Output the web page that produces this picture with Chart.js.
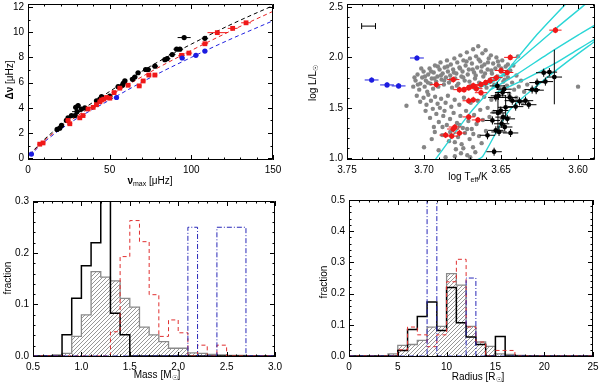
<!DOCTYPE html>
<html>
<head>
<meta charset="utf-8">
<script src="https://cdn.jsdelivr.net/npm/chart.js@4"></script>
<style>
html, body { margin: 0; padding: 0; background: #fff; }
#wrap { position: relative; width: 600px; height: 385px; }
canvas { position: absolute; left: 0; top: 0; }
</style>
</head>
<body>
<div id="wrap">
  <canvas id="c1" width="600" height="385"></canvas>
  <canvas id="c2" width="600" height="385"></canvas>
  <canvas id="c3" width="600" height="385"></canvas>
  <canvas id="c4" width="600" height="385"></canvas>
</div>
<script>
// ---- panel 1: delta nu vs nu_max ----
const blkNu  = [17.8,19.4,20.5,23.5,24.5,26.6,28.8,29.2,30.0,30.7,32.7,34.8,41.9,44.0,45.0,50.1,55.2,57.9,58.3,59.3,64.0,65.4,67.4,72.0,73.6,77.7,83.8,85.2,88.3,91.0,93.0,95.6,108.3];
const blkDnu = [2.29,2.39,2.61,3.00,3.21,3.39,3.39,4.04,3.70,4.17,3.91,3.99,4.56,4.69,4.90,4.93,5.68,5.79,5.95,6.13,6.26,6.44,6.78,7.04,7.04,7.30,7.82,7.90,8.22,8.65,8.65,9.57,9.51];
const blkNuErr  = [1,1,1,1,1,1,1.5,1.5,3,1.5,1,1,1.5,1.5,1.5,1.5,1.5,1.5,1.5,1.5,1.5,1.5,1.5,1.5,1.5,2,2,2,2,2,2,4,2];
const blkDnuErr = [0.08,0.08,0.08,0.08,0.08,0.08,0.15,0.2,0.35,0.2,0.1,0.08,0.08,0.08,0.08,0.08,0.08,0.08,0.08,0.08,0.08,0.08,0.08,0.08,0.08,0.08,0.08,0.08,0.08,0.08,0.08,0.1,0.08];
const redNu  = [7.2,9.2,24.5,25.6,31.7,33.7,36.8,39.9,41.9,44.0,45.0,46.4,48.1,50.1,52.7,56.2,61.3,68.1,70.5,74.0,77.7,94.0,98.5,108.3,115.9,125.3,133.5];
const redDnu = [1.12,1.22,3.00,2.74,3.21,3.39,3.91,4.04,4.25,4.48,4.62,4.69,4.82,4.77,5.21,5.56,5.79,5.74,6.13,6.60,6.60,8.16,8.34,9.08,9.96,10.30,10.74];
const redNuErr = [1.5,1.5,1.5,1.5,1.5,1.5,1.5,1.5,1.5,1.5,1.5,1.5,1.5,1.5,1.5,1.5,1.5,1.5,1.5,1.5,1.5,2,2,2,6,3,3];
const bluNu  = [2.1,54.2,94.4,102.8,108.3];
const bluDnu = [0.34,4.82,7.95,8.16,8.50];
const fitNu    = [1,10,25,50,75,100,125,150];
const fitBlack = [0.30,1.50,3.10,5.30,7.30,9.05,10.65,12.10];
const fitRed   = [0.27,1.40,2.90,4.95,6.85,8.55,10.15,11.65];
const fitBlue  = [0.22,1.30,2.75,4.62,6.40,8.00,9.50,10.90];

// ---- panel 2: HR diagram ----
const hrBluT = [3.734,3.724,3.7165,3.7046];
const hrBluL = [1.776,1.727,1.717,1.994];
const hrRedT = [3.6147,3.644,3.650,3.646,3.653,3.657,3.660,3.663,3.666,3.668,3.671,3.674,3.681,3.677,3.692,3.671,3.668,3.663,3.665,3.671,3.681,3.682,3.686,3.677,3.680];
const hrRedL = [2.27,2.00,1.87,1.85,1.80,1.77,1.75,1.73,1.69,1.72,1.70,1.68,1.78,1.68,1.73,1.57,1.58,1.65,1.38,1.41,1.29,1.22,1.23,1.25,1.31];
const hrBlkT = [3.6223,3.6186,3.6154,3.6212,3.6266,3.6272,3.6298,3.638,3.6341,3.632,3.6405,3.6444,3.648,3.6524,3.649,3.6517,3.652,3.6502,3.6487,3.6496,3.6513,3.647,3.6459,3.6476,3.6534,3.6427,3.6556,3.6588,3.6534,3.6438,3.6545];
const hrBlkL = [1.848,1.854,1.805,1.760,1.750,1.675,1.681,1.564,1.571,1.531,1.512,1.603,1.685,1.717,1.652,1.619,1.45,1.473,1.408,1.342,1.261,1.505,1.391,1.31,1.603,1.571,1.375,1.228,1.277,1.251,1.065];
const hrBlkLErr = [0.04,0.04,0.27,0.04,0.04,0.04,0.04,0.04,0.04,0.04,0.04,0.04,0.04,0.04,0.04,0.04,0.2,0.04,0.04,0.04,0.04,0.12,0.04,0.04,0.04,0.04,0.04,0.04,0.04,0.04,0.04];
const grayHR = [
  // clump band
  [3.7070,1.71],[3.7055,1.77],[3.7042,1.83],[3.7031,1.68],[3.7024,1.74],[3.7012,1.80],[3.7003,1.86],[3.6996,1.71],
  [3.6988,1.77],[3.6979,1.66],[3.6973,1.83],[3.6964,1.89],[3.6958,1.74],[3.6950,1.79],[3.6941,1.69],[3.6937,1.85],
  [3.6929,1.92],[3.6921,1.76],[3.6913,1.81],[3.6907,1.71],[3.6899,1.88],[3.6893,1.95],[3.6886,1.78],[3.6879,1.84],
  [3.6871,1.73],[3.6866,1.90],[3.6858,1.80],[3.6851,1.97],[3.6845,1.86],[3.6838,1.75],[3.6830,1.82],[3.6826,1.93],
  [3.6818,1.70],[3.6811,1.88],[3.6803,1.99],[3.6797,1.79],[3.6790,1.84],[3.6784,1.95],[3.6777,1.74],[3.6770,1.90],
  [3.6764,2.02],[3.6757,1.81],[3.6750,1.86],[3.6744,1.97],[3.6736,1.77],[3.6730,1.92],[3.6722,2.05],[3.6716,1.83],
  [3.6709,1.88],[3.6702,1.99],[3.6695,1.72],[3.6689,1.94],[3.6681,2.08],[3.6675,1.85],[3.6669,1.79],[3.6662,2.01],
  [3.6655,1.90],[3.6648,2.11],[3.6642,1.75],[3.6635,1.96],[3.6629,1.86],[3.6621,2.04],[3.6615,1.81],[3.6608,1.93],
  [3.6600,2.07],[3.6594,1.70],[3.6587,1.88],[3.6580,1.99],[3.6573,1.78],[3.6566,2.02],[3.6559,1.84],[3.6551,1.94],
  [3.6544,1.73],[3.6537,1.89],[3.6530,2.00],[3.6522,1.81],[3.6515,1.92],[3.6508,1.69],[3.6500,1.86],[3.6492,1.97],
  [3.6485,1.76],[3.6477,1.83],[3.6470,1.91],[3.6462,1.72],[3.6455,1.80],[3.6447,1.64],[3.6440,1.87],[3.6428,1.75],
  [3.6415,1.68],[3.6400,1.82],[3.6385,1.71],[3.6370,1.77],[3.6350,1.66],[3.6330,1.73],
  [3.7062,1.80],[3.7040,1.73],[3.7018,1.89],[3.6994,1.81],[3.6975,1.75],[3.6954,1.86],[3.6932,1.79],[3.6910,1.91],
  [3.6890,1.82],[3.6869,1.77],[3.6848,1.91],[3.6826,1.78],[3.6806,1.85],[3.6787,1.72],[3.6766,1.89],[3.6745,1.80],
  [3.6724,1.96],[3.6705,1.76],[3.6684,1.88],[3.6664,1.82],[3.6645,1.98],[3.6625,1.91],[3.6604,1.84],[3.6585,1.95],
  [3.6563,1.87],[3.6541,1.79],[3.6520,1.96],[3.6498,1.89],[3.6477,1.78],[3.6456,1.93],
  // lower giant branch
  [3.7114,1.52],[3.7047,1.62],[3.7025,1.56],[3.7003,1.60],[3.6990,1.47],[3.6984,1.53],[3.6972,1.63],[3.6961,1.40],
  [3.6955,1.57],[3.6943,1.49],[3.6936,1.31],[3.6928,1.61],[3.6920,1.44],[3.6912,1.54],[3.6904,1.36],[3.6897,1.50],
  [3.6889,1.59],[3.6882,1.23],[3.6875,1.42],[3.6867,1.47],[3.6860,1.55],[3.6852,1.33],[3.6845,1.62],[3.6838,1.17],
  [3.6831,1.39],[3.6823,1.51],[3.6816,1.28],[3.6808,1.45],[3.6801,1.58],[3.6793,1.09],[3.6786,1.35],[3.6779,1.21],
  [3.6771,1.53],[3.6764,1.42],[3.6756,1.14],[3.6748,1.30],[3.6741,1.60],[3.6734,1.25],[3.6727,1.47],[3.6719,1.03],
  [3.6712,1.37],[3.6704,1.19],[3.6697,1.55],[3.6690,1.29],[3.6682,1.11],[3.6675,1.43],[3.6667,1.06],[3.6659,1.34],
  [3.6651,1.57],[3.6643,1.22],[3.6635,1.48],[3.6626,1.15],[3.6618,1.38],[3.6609,1.61],[3.6598,1.27],[3.6587,1.50],
  [3.6575,1.41],[3.6563,1.58],[3.6548,1.46],[3.6530,1.62],[3.7000,1.11],[3.6950,1.19],[3.6905,1.08],[3.6860,1.01],
  [3.6800,1.02],[3.6760,1.05],[3.6700,1.01],[3.6930,1.26],[3.6880,1.31],[3.6830,1.26],[3.6770,1.33],[3.6720,1.29],
  [3.6680,1.24],[3.6745,1.10],[3.6800,1.16],
  // scattered to the cool side
  [3.6000,1.71],[3.6400,1.60],[3.6360,1.55],[3.6420,1.92],[3.6390,2.01]
];
const track1T = [3.693,3.6706,3.649,3.6276,3.608];
const track1L = [0.98,1.44,1.815,2.21,2.53];
const track2T = [3.668,3.655,3.640,3.618,3.595];
const track2L = [1.68,1.76,1.95,2.24,2.53];
const track3T = [3.6577,3.640,3.620,3.600,3.589];
const track3L = [1.67,1.83,2.03,2.22,2.32];
const track4T = [3.6534,3.635,3.615,3.600,3.589];
const track4L = [1.65,1.78,1.94,2.08,2.18];
const track5T = [3.666,3.662,3.6448,3.625,3.605,3.589];
const track5L = [0.98,1.016,1.47,1.74,1.98,2.16];

// ---- panel 3: mass histograms (bin left edges, width 0.1) ----
const massEdges = [0.5,0.6,0.7,0.8,0.9,1.0,1.1,1.2,1.3,1.4,1.5,1.6,1.7,1.8,1.9,2.0,2.1,2.2,2.3,2.4,2.5,2.6,2.7,2.8,2.9];
const massAll   = [0,0,0.002,0.005,0.038,0.080,0.164,0.153,0.146,0.112,0.095,0.056,0.041,0.028,0.015,0.015,0.006,0.005,0.003,0.002,0.001,0.001,0,0,0];
const massBlack = [0,0,0,0.041,0.112,0.175,0.220,0.328,0.083,0.041,0,0,0,0,0,0,0,0,0,0,0,0,0,0,0];
const massRed   = [0,0,0,0,0,0,0,0,0.047,0.193,0.263,0.222,0.119,0.038,0.070,0.045,0,0.021,0,0.021,0,0,0,0,0];
const massBlue  = [0,0,0,0,0,0,0,0,0,0,0,0,0,0,0,0,0.25,0,0,0.25,0.25,0.25,0,0,0];

// ---- panel 4: radius histograms (bin left edges, width 1) ----
const radEdges = [0,1,2,3,4,5,6,7,8,9,10,11,12,13,14,15,16,17,18,19,20,21,22,23,24];
const radAll   = [0,0,0,0,0.007,0.034,0.037,0.050,0.093,0.095,0.264,0.227,0.095,0.045,0.031,0.007,0.005,0.002,0,0,0,0,0,0,0];
const radBlack = [0,0,0,0,0,0.018,0.085,0.127,0.173,0.082,0.220,0.107,0.061,0.037,0,0.063,0,0,0,0,0,0,0,0,0];
const radRed   = [0,0,0,0,0,0.020,0.093,0.068,0.030,0.068,0.238,0.310,0.093,0.045,0,0.018,0.018,0,0,0,0,0,0,0,0];
const radBlue  = [0,0,0,0,0,0,0,0,0.5,0,0,0,0.25,0,0,0,0,0,0,0,0,0,0,0,0];

// ---- helpers ----
const FONT = '"Liberation Sans", Arial, sans-serif';
const YW = 25, XH = 20;

const pts = (xs, ys, xe, ye) => xs.map((v, i) => ({
  x: v, y: ys[i],
  xe: Array.isArray(xe) ? xe[i] : xe,
  ye: Array.isArray(ye) ? ye[i] : ye
}));
const line = (xs, ys) => xs.map((v, i) => ({x: v, y: ys[i]}));
const steps = (edges, vals, w) => [{x: edges[0], y: 0}]
  .concat(edges.map((e, i) => ({x: e, y: vals[i]})))
  .concat([{x: edges[edges.length - 1] + w, y: 0}]);

const hatch = (() => {
  const c = document.createElement('canvas');
  c.width = 4; c.height = 4;
  const g = c.getContext('2d');
  g.strokeStyle = '#6a6a6a'; g.lineWidth = 0.7;
  g.beginPath();
  g.moveTo(0, 4); g.lineTo(4, 0);
  g.moveTo(-1, 1); g.lineTo(1, -1);
  g.moveTo(3, 5); g.lineTo(5, 3);
  g.stroke();
  return g.createPattern(c, 'repeat');
})();

function eachTick(scale, majors, step, fn) {
  const lo = Math.min(scale.min, scale.max), hi = Math.max(scale.min, scale.max);
  for (let i = Math.ceil(lo / step - 1e-6); i * step <= hi + 1e-9; i++) {
    const v = i * step;
    const major = majors.some(m => Math.abs(m - v) < step * 0.01);
    fn(v, major ? 5 : 2.5);
  }
}

function framePlugin(cfg) {
  return {
    id: 'frame',
    afterDatasetsDraw(chart) {
      const {ctx, chartArea: a} = chart;
      const x = chart.scales.x, y = chart.scales.y;
      ctx.save();
      ctx.strokeStyle = '#000';
      ctx.lineWidth = 1;
      ctx.beginPath();
      ctx.rect(a.left + 0.5, a.top + 0.5, a.right - a.left - 1, a.bottom - a.top - 1);
      eachTick(x, cfg.xMajor, cfg.xMinor, (v, len) => {
        const p = Math.round(x.getPixelForValue(v)) + 0.5;
        ctx.moveTo(p, a.bottom); ctx.lineTo(p, a.bottom - len);
        ctx.moveTo(p, a.top); ctx.lineTo(p, a.top + len);
      });
      eachTick(y, cfg.yMajor, cfg.yMinor, (v, len) => {
        const p = Math.round(y.getPixelForValue(v)) + 0.5;
        ctx.moveTo(a.left, p); ctx.lineTo(a.left + len, p);
        ctx.moveTo(a.right, p); ctx.lineTo(a.right - len, p);
      });
      ctx.stroke();
      ctx.restore();
    }
  };
}

function titlePlugin(list) {
  return {
    id: 'titles',
    afterDraw(chart) {
      const ctx = chart.ctx;
      const fontOf = p => (p.b ? 'bold ' : '') + (p.sub ? 7 : 10) + 'px ' + FONT;
      list.forEach(t => {
        ctx.save();
        ctx.translate(t.x, t.y);
        if (t.rot) ctx.rotate(-Math.PI / 2);
        ctx.fillStyle = '#000';
        ctx.textBaseline = 'middle';
        let w = 0;
        t.parts.forEach(p => { ctx.font = fontOf(p); w += ctx.measureText(p.t).width; });
        let cx = -w / 2;
        t.parts.forEach(p => {
          ctx.font = fontOf(p);
          ctx.fillText(p.t, cx, p.sub ? 3 : 0);
          cx += ctx.measureText(p.t).width;
        });
        ctx.restore();
      });
    }
  };
}

const errPlugin = {
  id: 'errbars',
  beforeDatasetDraw(chart, args) {
    const ds = chart.data.datasets[args.index];
    if (!ds.err) return;
    const {ctx, chartArea: a} = chart;
    const x = chart.scales.x, y = chart.scales.y;
    const cap = ds.err.cap || 0;
    ctx.save();
    ctx.beginPath();
    ctx.rect(a.left, a.top, a.right - a.left, a.bottom - a.top);
    ctx.clip();
    ctx.strokeStyle = ds.err.color;
    ctx.lineWidth = 1;
    ctx.beginPath();
    ds.data.forEach(p => {
      const px = x.getPixelForValue(p.x), py = y.getPixelForValue(p.y);
      if (p.xe) {
        const x0 = x.getPixelForValue(p.x - p.xe), x1 = x.getPixelForValue(p.x + p.xe);
        ctx.moveTo(x0, py); ctx.lineTo(x1, py);
        if (cap) {
          ctx.moveTo(x0, py - cap); ctx.lineTo(x0, py + cap);
          ctx.moveTo(x1, py - cap); ctx.lineTo(x1, py + cap);
        }
      }
      if (p.ye) {
        ctx.moveTo(px, y.getPixelForValue(p.y - p.ye));
        ctx.lineTo(px, y.getPixelForValue(p.y + p.ye));
      }
    });
    ctx.stroke();
    ctx.restore();
  }
};

function axes(o) {
  const common = {
    type: 'linear',
    grid: {display: false, drawTicks: false},
    border: {display: false}
  };
  return {
    x: Object.assign({}, common, {
      min: o.xmin, max: o.xmax, reverse: !!o.xrev,
      ticks: {padding: 4, color: '#000', font: {family: FONT, size: 10}, autoSkip: false, maxRotation: 0, callback: o.xfmt},
      afterBuildTicks: s => { s.ticks = o.xticks.map(v => ({value: v})); },
      afterFit: s => { s.height = XH; s.paddingLeft = 0; s.paddingRight = 0; }
    }),
    y: Object.assign({}, common, {
      min: o.ymin, max: o.ymax,
      ticks: {padding: 4, color: '#000', font: {family: FONT, size: 10}, autoSkip: false, callback: o.yfmt},
      afterBuildTicks: s => { s.ticks = o.yticks.map(v => ({value: v})); },
      afterFit: s => { s.width = YW; s.paddingTop = 0; s.paddingBottom = 0; }
    })
  };
}

function makeChart(id, area, ax, frameCfg, titles, datasets) {
  return new Chart(document.getElementById(id), {
    type: 'scatter',
    data: {datasets},
    options: {
      responsive: false,
      animation: false,
      events: [],
      layout: {padding: {left: area.l - YW, right: 600 - area.r, top: area.t, bottom: 385 - area.b - XH}},
      plugins: {legend: {display: false}, tooltip: {enabled: false}},
      scales: axes(ax)
    },
    plugins: [errPlugin, framePlugin(frameCfg), titlePlugin(titles)]
  });
}

const fitLine = (data, color) => ({
  type: 'line', data, borderColor: color, borderWidth: 1, borderDash: [4, 3],
  pointRadius: 0, cubicInterpolationMode: 'monotone', fill: false, order: 4
});
const track = (xs, ys) => ({
  type: 'line', data: line(xs, ys), borderColor: '#2ad6d6', borderWidth: 1.4,
  pointRadius: 0, tension: 0.25, fill: false, order: 4
});
const hist = (data, color, width, dash, order, fillPat) => ({
  type: 'line', data, stepped: 'before', borderColor: color, borderWidth: width,
  borderDash: dash, pointRadius: 0, order,
  fill: fillPat ? 'origin' : false, backgroundColor: fillPat || 'rgba(0,0,0,0)'
});

// ---- panel 1 ----
makeChart('c1', {l: 28, r: 273, t: 2, b: 160},
  {xmin: 0, xmax: 150, xticks: [0, 50, 100, 150], xfmt: v => String(v),
   ymin: -0.133, ymax: 12.23, yticks: [0, 2, 4, 6, 8, 10, 12], yfmt: v => String(v)},
  {xMajor: [0, 50, 100, 150], xMinor: 10, yMajor: [0, 2, 4, 6, 8, 10, 12], yMinor: 1},
  [{x: 10, y: 80, rot: true, parts: [{t: 'Δν', b: 1}, {t: ' [μHz]'}]},
   {x: 150, y: 181, parts: [{t: 'ν', b: 1}, {t: 'max', sub: 1}, {t: ' [μHz]'}]}],
  [
    {data: pts(bluNu, bluDnu, 1.5, 0.08), backgroundColor: '#1c1ce0', borderWidth: 0, pointRadius: 2.6, order: 1, err: {color: '#1c1ce0'}},
    {data: pts(redNu, redDnu, redNuErr, 0.1), backgroundColor: '#f01818', borderWidth: 0, pointStyle: 'rect', pointRadius: 3.4, order: 2, err: {color: '#f01818'}},
    {data: pts(blkNu, blkDnu, blkNuErr, blkDnuErr), backgroundColor: '#000', borderWidth: 0, pointRadius: 2.6, order: 3, err: {color: '#000'}},
    fitLine(line(fitNu, fitBlack), '#000'),
    fitLine(line(fitNu, fitRed), '#e82020'),
    fitLine(line(fitNu, fitBlue), '#2020e0')
  ]);

// ---- panel 2 ----
makeChart('c2', {l: 347, r: 595, t: 2, b: 160},
  {xmin: 3.589, xmax: 3.75, xrev: true, xticks: [3.75, 3.70, 3.65, 3.60], xfmt: v => v.toFixed(2),
   ymin: 0.983, ymax: 2.529, yticks: [1.0, 1.5, 2.0, 2.5], yfmt: v => v.toFixed(1)},
  {xMajor: [3.60, 3.65, 3.70, 3.75], xMinor: 0.01, yMajor: [1.0, 1.5, 2.0, 2.5], yMinor: 0.1},
  [{x: 313, y: 83, rot: true, parts: [{t: 'log L/L'}, {t: '☉', sub: 1}]},
   {x: 468, y: 177, parts: [{t: 'log T'}, {t: 'eff', sub: 1}, {t: '/K'}]}],
  [
    {data: pts(hrBluT, hrBluL, 0.0045, 0.025), backgroundColor: '#1c1ce0', borderWidth: 0, pointRadius: 2.6, order: 1, err: {color: '#1c1ce0'}},
    {data: [{x: 3.736, y: 2.31, xe: 0.0045}], pointRadius: 0, order: 1, err: {color: '#000', cap: 3}},
    {data: pts(hrRedT, hrRedL, 0.004, 0.03), backgroundColor: '#f01818', borderWidth: 0, pointRadius: 2.6, order: 2, err: {color: '#f01818'}},
    {data: pts(hrBlkT, hrBlkL, 0.005, hrBlkLErr), backgroundColor: '#000', borderWidth: 0, pointRadius: 2.4, order: 3, err: {color: '#000'}},
    track(track1T, track1L), track(track2T, track2L), track(track3T, track3L),
    track(track4T, track4L), track(track5T, track5L),
    {data: grayHR.map(p => ({x: p[0], y: p[1]})), backgroundColor: '#858585', borderWidth: 0, pointRadius: 2.2, order: 5}
  ]);

// ---- panel 3 ----
makeChart('c3', {l: 33, r: 275, t: 201, b: 357},
  {xmin: 0.5, xmax: 3.0, xticks: [0.5, 1.0, 1.5, 2.0, 2.5, 3.0], xfmt: v => v.toFixed(1),
   ymin: -0.002, ymax: 0.301, yticks: [0, 0.1, 0.2, 0.3], yfmt: v => v.toFixed(1)},
  {xMajor: [0.5, 1.0, 1.5, 2.0, 2.5, 3.0], xMinor: 0.1, yMajor: [0, 0.1, 0.2, 0.3], yMinor: 0.02},
  [{x: 8, y: 278, rot: true, parts: [{t: 'fraction'}]},
   {x: 157, y: 375, parts: [{t: 'Mass [M'}, {t: '☉', sub: 1}, {t: ']'}]}],
  [
    hist(steps(massEdges, massBlue, 0.1), '#2828b8', 1, [5, 2, 1, 2], 1),
    hist(steps(massEdges, massRed, 0.1), '#e03030', 1, [4, 3], 2),
    hist(steps(massEdges, massBlack, 0.1), '#000', 1.5, [], 3),
    hist(steps(massEdges, massAll, 0.1), '#8a8a8a', 1.3, [], 4, hatch)
  ]);

// ---- panel 4 ----
makeChart('c4', {l: 349, r: 593, t: 200, b: 357},
  {xmin: 0, xmax: 25, xticks: [0, 5, 10, 15, 20, 25], xfmt: v => String(v),
   ymin: -0.003, ymax: 0.5, yticks: [0, 0.1, 0.2, 0.3, 0.4, 0.5], yfmt: v => v.toFixed(1)},
  {xMajor: [0, 5, 10, 15, 20, 25], xMinor: 1, yMajor: [0, 0.1, 0.2, 0.3, 0.4, 0.5], yMinor: 0.02},
  [{x: 324, y: 282, rot: true, parts: [{t: 'fraction'}]},
   {x: 478, y: 377, parts: [{t: 'Radius [R'}, {t: '☉', sub: 1}, {t: ']'}]}],
  [
    hist(steps(radEdges, radBlue, 1), '#2828b8', 1, [5, 2, 1, 2], 1),
    hist(steps(radEdges, radRed, 1), '#e03030', 1, [4, 3], 2),
    hist(steps(radEdges, radBlack, 1), '#000', 1.5, [], 3),
    hist(steps(radEdges, radAll, 1), '#8a8a8a', 1.3, [], 4, hatch)
  ]);
</script>
</body>
</html>
